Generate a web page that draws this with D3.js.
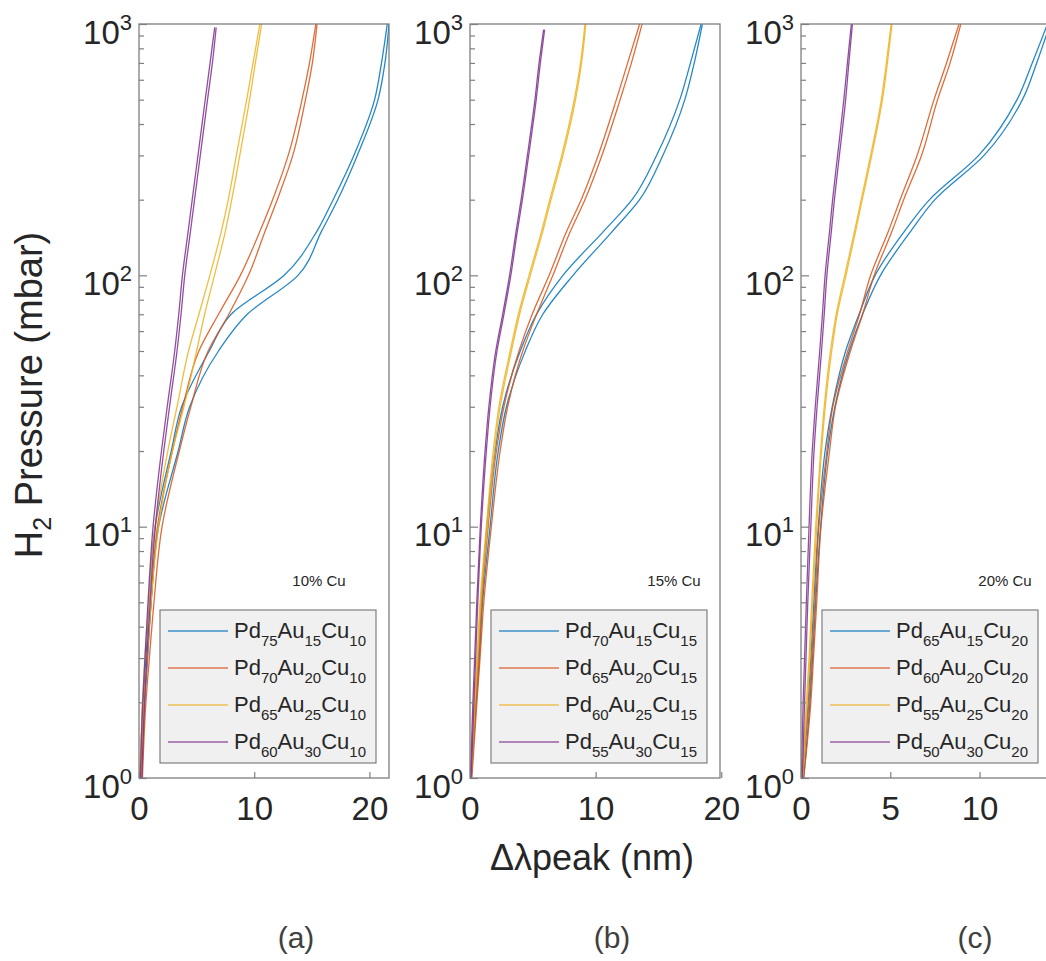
<!DOCTYPE html>
<html>
<head>
<meta charset="utf-8">
<script src="https://cdn.jsdelivr.net/npm/d3@7"></script>
<style>
  body { margin: 0; background: #fff; }
  svg { font-family: "Liberation Sans", Arial, sans-serif; }
</style>
</head>
<body>
<div id="chart"></div>
<script>
// pressure levels (mbar) the curves were read at; last level is replaced by each series' end pressure
const pressure = [1, 2, 3, 5, 10, 20, 30, 50, 70, 100, 150, 200, 300, 500, 700, 1000];

// panel (a) 10% Cu, two branches per alloy
const aBlue1   = [0.10, 0.35, 0.60, 0.85, 1.40, 2.80, 3.70, 6.10, 8.00, 12.6, 15.45, 16.85, 18.65, 20.45, 21.05, 21.55];
const aBlue2   = [0.25, 0.50, 0.75, 1.05, 1.70, 3.40, 4.40, 6.90, 9.40, 13.8, 15.85, 17.25, 18.95, 20.75, 21.35, 21.7];
const aRed1    = [0.15, 0.45, 0.70, 1.05, 1.60, 2.90, 3.80, 5.20, 6.90, 8.80, 10.5, 11.6, 12.95, 14.15, 14.8, 15.35];
const aRed2    = [0.30, 0.60, 0.90, 1.30, 2.00, 3.50, 4.50, 6.00, 7.80, 9.50, 10.95, 12.0, 13.35, 14.45, 15.05, 15.45];
const aYellow1 = [0.05, 0.30, 0.50, 0.85, 1.40, 2.50, 3.30, 4.30, 5.20, 6.15, 7.15, 7.75, 8.45, 9.35, 9.90, 10.5];
const aYellow2 = [0.20, 0.45, 0.70, 1.05, 1.70, 2.90, 3.90, 5.00, 5.70, 6.55, 7.50, 8.05, 8.75, 9.60, 10.1, 10.65];
const aPurple1 = [0.12, 0.32, 0.52, 0.78, 1.22, 1.95, 2.45, 3.10, 3.45, 3.77, 4.27, 4.62, 5.12, 5.75, 6.17, 6.57];
const aPurple2 = [0.25, 0.48, 0.68, 0.96, 1.42, 2.15, 2.65, 3.30, 3.65, 3.97, 4.47, 4.82, 5.32, 5.95, 6.37, 6.70];
const aTopP = [1000, 1000, 1000, 970];

// panel (b) 15% Cu
const bBlue1   = [0.05, 0.40, 0.65, 0.90, 1.35, 2.00, 2.60, 4.00, 5.30, 7.40, 10.65, 12.9, 14.85, 16.7, 17.55, 18.4];
const bBlue2   = [0.10, 0.50, 0.75, 1.00, 1.60, 2.25, 2.90, 4.40, 5.80, 8.20, 11.35, 13.5, 15.35, 17.1, 17.85, 18.5];
const bRed1    = [0.05, 0.45, 0.70, 0.95, 1.45, 2.10, 2.70, 3.90, 4.95, 6.30, 7.70, 8.85, 10.2, 11.65, 12.55, 13.5];
const bRed2    = [0.15, 0.55, 0.80, 1.10, 1.70, 2.40, 3.00, 4.20, 5.30, 6.60, 8.00, 9.15, 10.5, 11.95, 12.85, 13.7];
const bYellow1 = [0.05, 0.35, 0.55, 0.80, 1.30, 1.85, 2.30, 3.20, 3.85, 4.70, 5.70, 6.35, 7.30, 8.30, 8.80, 9.15];
const bYellow2 = [0.10, 0.40, 0.62, 0.87, 1.38, 1.95, 2.40, 3.30, 3.95, 4.80, 5.80, 6.45, 7.40, 8.40, 8.88, 9.22];
const bPurple1 = [0.03, 0.23, 0.37, 0.54, 0.82, 1.20, 1.50, 2.05, 2.60, 3.15, 3.67, 4.07, 4.57, 5.17, 5.50, 5.86];
const bPurple2 = [0.10, 0.31, 0.45, 0.62, 0.90, 1.30, 1.60, 2.15, 2.70, 3.25, 3.77, 4.17, 4.67, 5.27, 5.60, 5.94];
const bTopP = [1000, 1000, 1000, 950];

// panel (c) 20% Cu
const cBlue1   = [0.05, 0.40, 0.55, 0.72, 0.97, 1.35, 1.75, 2.50, 3.25, 4.15, 5.80, 7.20, 9.95, 12.1, 12.95, 13.8];
const cBlue2   = [0.15, 0.50, 0.65, 0.82, 1.10, 1.50, 1.90, 2.70, 3.45, 4.45, 6.15, 7.50, 10.25, 12.4, 13.2, 13.95];
const cRed1    = [0.05, 0.45, 0.60, 0.78, 1.00, 1.45, 1.78, 2.62, 3.28, 3.90, 4.90, 5.55, 6.50, 7.45, 8.15, 8.85];
const cRed2    = [0.15, 0.55, 0.70, 0.88, 1.12, 1.60, 1.93, 2.77, 3.45, 4.10, 5.10, 5.75, 6.75, 7.65, 8.35, 8.95];
const cYellow1 = [0.05, 0.30, 0.45, 0.60, 0.82, 1.10, 1.30, 1.65, 1.97, 2.45, 3.00, 3.37, 3.90, 4.50, 4.78, 5.05];
const cYellow2 = [0.10, 0.35, 0.50, 0.65, 0.88, 1.15, 1.36, 1.72, 2.03, 2.52, 3.06, 3.43, 3.96, 4.56, 4.84, 5.10];
const cPurple1 = [0.02, 0.12, 0.20, 0.30, 0.45, 0.63, 0.80, 1.05, 1.20, 1.35, 1.60, 1.77, 2.05, 2.40, 2.60, 2.82];
const cPurple2 = [0.08, 0.20, 0.28, 0.38, 0.55, 0.73, 0.90, 1.15, 1.30, 1.45, 1.70, 1.87, 2.15, 2.50, 2.68, 2.88];
const cTopP = [1000, 1000, 1000, 1000];

// legend compositions
const pdContent = [[75, 70, 65, 60], [70, 65, 60, 55], [65, 60, 55, 50]];
const auContent = [15, 20, 25, 30];
const cuContent = [10, 15, 20];
const panelTags = ["(a)", "(b)", "(c)"];
const xMax = [21.7, 19.9, 14.0];
const xTicks = [[0, 10, 20], [0, 10, 20], [0, 5, 10]];
const yMajor = [1, 10, 100, 1000];

const colors = ["#0072BD", "#D95319", "#EDB120", "#7E2F8E"];

const panels = [
  { series: [[aBlue1, aBlue2], [aRed1, aRed2], [aYellow1, aYellow2], [aPurple1, aPurple2]], topP: aTopP },
  { series: [[bBlue1, bBlue2], [bRed1, bRed2], [bYellow1, bYellow2], [bPurple1, bPurple2]], topP: bTopP },
  { series: [[cBlue1, cBlue2], [cRed1, cRed2], [cYellow1, cYellow2], [cPurple1, cPurple2]], topP: cTopP }
];

// layout
const W = 1046, H = 961;
const panelLeft = [139, 470, 801], panelW = 250;
const plotTop = 24, plotBottom = 778;
const noteX = [319, 674, 1005], noteY = 586;
const tagX = [296, 612, 975], tagY = 948;
const axisColor = "#7f7f7f", textColor = "#262626";

const svg = d3.select("#chart").append("svg")
    .attr("width", W).attr("height", H);
svg.append("rect").attr("width", W).attr("height", H).attr("fill", "#fff");

const yScale = d3.scaleLog().domain([1, 1000]).range([plotBottom, plotTop]);
const minorTicks = [];
[1, 10, 100].forEach(d => { for (let k = 2; k <= 9; k++) minorTicks.push(d * k); });

panels.forEach((p, pi) => {
  const left = panelLeft[pi];
  const g = svg.append("g").attr("transform", `translate(${left},0)`);
  const xScale = d3.scaleLinear().domain([0, xMax[pi]]).range([0, panelW]);

  g.append("defs").append("clipPath").attr("id", "clip" + pi)
    .append("rect").attr("x", 0).attr("y", plotTop).attr("width", panelW).attr("height", plotBottom - plotTop);

  const line = d3.line()
      .x(d => xScale(d[0]))
      .y(d => yScale(d[1]))
      .curve(d3.curveMonotoneY);

  const lines = g.append("g").attr("clip-path", `url(#clip${pi})`);
  p.series.forEach((pair, si) => {
    pair.forEach(arr => {
      const pts = arr.map((v, i) => [v, i === arr.length - 1 ? p.topP[si] : pressure[i]]);
      lines.append("path")
        .attr("d", line(pts))
        .attr("fill", "none")
        .attr("stroke", colors[si])
        .attr("stroke-width", 1.3)
        .attr("stroke-opacity", 0.85);
    });
  });

  // frame
  g.append("rect")
    .attr("x", 0).attr("y", plotTop).attr("width", panelW).attr("height", plotBottom - plotTop)
    .attr("fill", "none").attr("stroke", axisColor).attr("stroke-width", 1.3);

  // minor y ticks
  g.append("g")
    .call(d3.axisLeft(yScale).tickValues(minorTicks).tickSizeInner(-5).tickSizeOuter(0).tickFormat(""))
    .call(a => a.select(".domain").remove())
    .call(a => a.selectAll("line").attr("stroke", axisColor).attr("stroke-width", 1.2));

  // major y ticks + labels 10^n
  const yAx = g.append("g")
    .call(d3.axisLeft(yScale).tickValues(yMajor).tickSizeInner(-8).tickSizeOuter(0).tickPadding(7).tickFormat(""))
    .call(a => a.select(".domain").remove())
    .call(a => a.selectAll("line").attr("stroke", axisColor).attr("stroke-width", 1.2));
  yAx.selectAll(".tick text")
    .attr("dy", null).attr("y", 19)
    .attr("font-size", 33).attr("fill", textColor)
    .each(function(d) {
      const t = d3.select(this);
      t.append("tspan").text("10");
      t.append("tspan").attr("dy", -14).attr("font-size", 22).text(Math.round(Math.log10(d)));
    });

  // x ticks
  g.append("g").attr("transform", `translate(0,${plotBottom})`)
    .call(d3.axisBottom(xScale).tickValues(xTicks[pi]).tickSizeInner(-6).tickSizeOuter(0).tickPadding(19))
    .call(a => a.select(".domain").remove())
    .call(a => a.selectAll("line").attr("stroke", axisColor).attr("stroke-width", 1.2))
    .call(a => a.selectAll("text").attr("font-size", 33).attr("fill", textColor).attr("font-family", null));

  // legend
  const lgW = 216, lgH = 153, lgX = panelW - 13 - lgW, lgY = 610;
  const lg = g.append("g").attr("transform", `translate(${lgX},${lgY})`);
  lg.append("rect").attr("width", lgW).attr("height", lgH)
    .attr("fill", "#f0f0f0").attr("stroke", axisColor).attr("stroke-width", 1.2);
  colors.forEach((c, si) => {
    const ry = 21 + si * 37;
    lg.append("line").attr("x1", 8).attr("x2", 68).attr("y1", ry).attr("y2", ry)
      .attr("stroke", c).attr("stroke-width", 1.3).attr("stroke-opacity", 0.75);
    const t = lg.append("text").attr("x", 74).attr("y", ry + 7)
      .attr("font-size", 22).attr("fill", textColor);
    t.append("tspan").text("Pd");
    t.append("tspan").attr("dy", 8).attr("font-size", 15).text(pdContent[pi][si]);
    t.append("tspan").attr("dy", -8).text("Au");
    t.append("tspan").attr("dy", 8).attr("font-size", 15).text(auContent[si]);
    t.append("tspan").attr("dy", -8).text("Cu");
    t.append("tspan").attr("dy", 8).attr("font-size", 15).text(cuContent[pi]);
  });

  // composition note
  svg.append("text").attr("x", noteX[pi]).attr("y", noteY)
    .attr("text-anchor", "middle").attr("font-size", 15).attr("fill", textColor)
    .text(cuContent[pi] + "% Cu");

  // panel tag
  svg.append("text").attr("x", tagX[pi]).attr("y", tagY)
    .attr("text-anchor", "middle").attr("font-size", 30).attr("fill", "#404040")
    .text(panelTags[pi]);
});

// axis titles
const yTitle = svg.append("text")
    .attr("transform", "translate(42,395) rotate(-90)")
    .attr("text-anchor", "middle").attr("font-size", 38).attr("fill", textColor);
yTitle.append("tspan").text("H");
yTitle.append("tspan").attr("dy", 9).attr("font-size", 25).text("2");
yTitle.append("tspan").attr("dy", -9).text(" Pressure (mbar)");

svg.append("text").attr("x", 592).attr("y", 870)
  .attr("text-anchor", "middle").attr("font-size", 36).attr("fill", textColor)
  .text("Δλpeak (nm)");
</script>
</body>
</html>
